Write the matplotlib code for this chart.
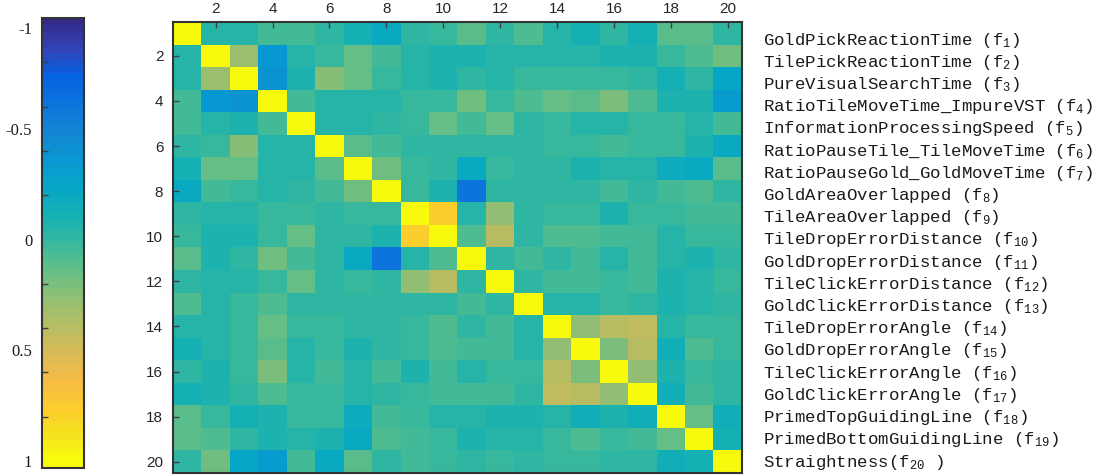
import numpy as np
import matplotlib.pyplot as plt
from matplotlib.colors import LinearSegmentedColormap

plt.rcParams['mathtext.fontset'] = 'custom'
plt.rcParams['mathtext.rm'] = 'Liberation Mono'
plt.rcParams['mathtext.it'] = 'Liberation Mono'
plt.rcParams['mathtext.default'] = 'regular'

# feature names shown on the right
features = [
    'GoldPickReactionTime (f$_{1}$)',
    'TilePickReactionTime (f$_{2}$)',
    'PureVisualSearchTime (f$_{3}$)',
    'RatioTileMoveTime_ImpureVST (f$_{4}$)',
    'InformationProcessingSpeed (f$_{5}$)',
    'RatioPauseTile_TileMoveTime (f$_{6}$)',
    'RatioPauseGold_GoldMoveTime (f$_{7}$)',
    'GoldAreaOverlapped (f$_{8}$)',
    'TileAreaOverlapped (f$_{9}$)',
    'TileDropErrorDistance (f$_{10}$)',
    'GoldDropErrorDistance (f$_{11}$)',
    'TileClickErrorDistance (f$_{12}$)',
    'GoldClickErrorDistance (f$_{13}$)',
    'TileDropErrorAngle (f$_{14}$)',
    'GoldDropErrorAngle (f$_{15}$)',
    'TileClickErrorAngle (f$_{16}$)',
    'GoldClickErrorAngle (f$_{17}$)',
    'PrimedTopGuidingLine (f$_{18}$)',
    'PrimedBottomGuidingLine (f$_{19}$)',
    'Straightness(f$_{20}$ )',
]

# upper triangle of the correlation matrix, row i holds columns i+1..20
upper = [
    [-0.04, -0.04, 0.05, 0.05, -0.03, -0.12, -0.20, -0.02, 0.03, 0.10, -0.01, 0.07, -0.04, -0.10, -0.02, -0.10, 0.10, 0.10, -0.02],
    [0.30, -0.35, -0.06, 0.00, 0.13, 0.05, -0.06, -0.07, -0.07, -0.06, -0.06, -0.06, -0.06, -0.09, -0.07, 0.03, 0.07, 0.17],
    [-0.38, -0.08, 0.22, 0.13, 0.03, -0.06, -0.08, -0.03, -0.05, 0.00, 0.00, 0.00, 0.00, -0.01, -0.12, -0.02, -0.22],
    [0.05, -0.04, -0.06, -0.06, 0.02, 0.03, 0.17, 0.02, 0.07, 0.14, 0.10, 0.20, 0.07, -0.09, -0.09, -0.33],
    [-0.06, -0.06, -0.01, 0.02, 0.13, 0.04, 0.13, -0.01, 0.00, -0.04, -0.04, 0.02, 0.02, -0.04, 0.06],
    [0.10, 0.04, -0.02, -0.02, -0.02, -0.02, -0.01, 0.02, 0.02, 0.05, 0.03, 0.03, -0.07, -0.20],
    [0.17, 0.01, -0.01, -0.20, 0.02, -0.01, -0.01, -0.07, -0.04, -0.05, -0.17, -0.20, 0.10],
    [0.02, -0.07, -0.60, -0.02, -0.02, -0.02, -0.02, 0.05, -0.01, 0.04, 0.07, -0.02],
    [0.75, -0.04, 0.28, -0.01, 0.03, 0.03, -0.07, 0.03, 0.00, 0.04, 0.04],
    [0.07, 0.38, -0.01, 0.08, 0.07, 0.04, 0.06, -0.06, 0.02, 0.00],
    [-0.02, 0.05, -0.01, 0.04, -0.04, 0.05, -0.04, -0.07, -0.02],
    [-0.02, 0.06, 0.04, 0.02, 0.05, -0.07, -0.04, 0.02],
    [-0.04, -0.04, 0.02, -0.02, -0.07, -0.04, -0.02],
    [0.25, 0.40, 0.42, -0.04, 0.02, 0.00],
    [0.20, 0.38, -0.15, 0.08, 0.00],
    [0.25, -0.07, 0.02, -0.01],
    [-0.15, 0.06, -0.01],
    [0.15, -0.13],
    [-0.10],
]

# parula-like colormap
parula_pts = [
    (0.2081, 0.1663, 0.5292), (0.1959, 0.2645, 0.7279), (0.0117, 0.3875, 0.8820),
    (0.0498, 0.4586, 0.8641), (0.0793, 0.5200, 0.8312), (0.0343, 0.5966, 0.8199),
    (0.0228, 0.6535, 0.7768), (0.0843, 0.6928, 0.7062), (0.2178, 0.7250, 0.6193),
    (0.3953, 0.7459, 0.5244), (0.5709, 0.7485, 0.4494), (0.7184, 0.7411, 0.3905),
    (0.8507, 0.7299, 0.3360), (0.9739, 0.7314, 0.2666), (0.9880, 0.8066, 0.1794),
    (0.9589, 0.8949, 0.1132), (0.9763, 0.9831, 0.0538),
]
idx = [0, 4, 8, 12, 16, 20, 24, 28, 32, 36, 40, 44, 48, 52, 56, 60, 63]
parula = LinearSegmentedColormap.from_list(
    'parula', [(i / 63, c) for i, c in zip(idx, parula_pts)], N=64)

n = len(features)
corr = np.eye(n)
for i, row in enumerate(upper):
    for k, v in enumerate(row):
        j = i + 1 + k
        corr[i, j] = v
        corr[j, i] = v

W, H = 1096, 475
fig = plt.figure(figsize=(W / 100, H / 100), dpi=100)

ax = fig.add_axes([173 / W, 2 / H, 569 / W, 451 / H])
im = ax.imshow(corr, cmap=parula, vmin=-1, vmax=1, aspect='auto',
               interpolation='nearest', extent=[0.5, n + 0.5, n + 0.5, 0.5])
ax.xaxis.tick_top()
ax.set_xticks(range(2, n + 1, 2))
ax.set_yticks(range(2, n + 1, 2))
ax.tick_params(direction='in', length=4, width=1, color='0.25',
               labelcolor='0.15', labelsize=11)
ax.tick_params(axis='x', pad=4)
ax.tick_params(axis='y', pad=7)
for lab in ax.get_xticklabels() + ax.get_yticklabels():
    lab.set_fontfamily('Liberation Sans')
for s in ax.spines.values():
    s.set_color('0.2')
    s.set_linewidth(1.5)

# names on the right
ys = np.linspace(40, 462, n)
for name, yp in zip(features, ys):
    fig.text(763 / W, 1 - yp / H, name, ha='left', va='center',
             fontfamily='Liberation Mono', fontsize=12.5, color='0.1')

# colorbar on the left, -1 on top, runs a little past 1
cax = fig.add_axes([42 / W, 7 / H, 42 / W, 450 / H])
bounds = np.append(np.linspace(-1, 1, 65), 1.03)
cb = fig.colorbar(im, cax=cax, boundaries=bounds)
cax.set_ylim(1.03, -1)
cax.yaxis.set_ticks_position('left')
cax.set_yticks([-0.955, -0.5, 0, 0.5, 1], labels=['-1', '-0.5', '0', '0.5', '1'])
cax.set_yticks(np.arange(-0.8, 1.01, 0.2), minor=True)
cax.tick_params(which='major', length=0, pad=7, labelsize=12, labelcolor='0.1')
cax.tick_params(which='minor', direction='in', length=4, width=1, color='0.25',
                left=True, right=False)
for lab in cax.get_yticklabels():
    lab.set_fontfamily('Liberation Serif')
cb.outline.set_edgecolor('0.2')
cb.outline.set_linewidth(1.5)

fig.savefig('out.png', dpi=100)
